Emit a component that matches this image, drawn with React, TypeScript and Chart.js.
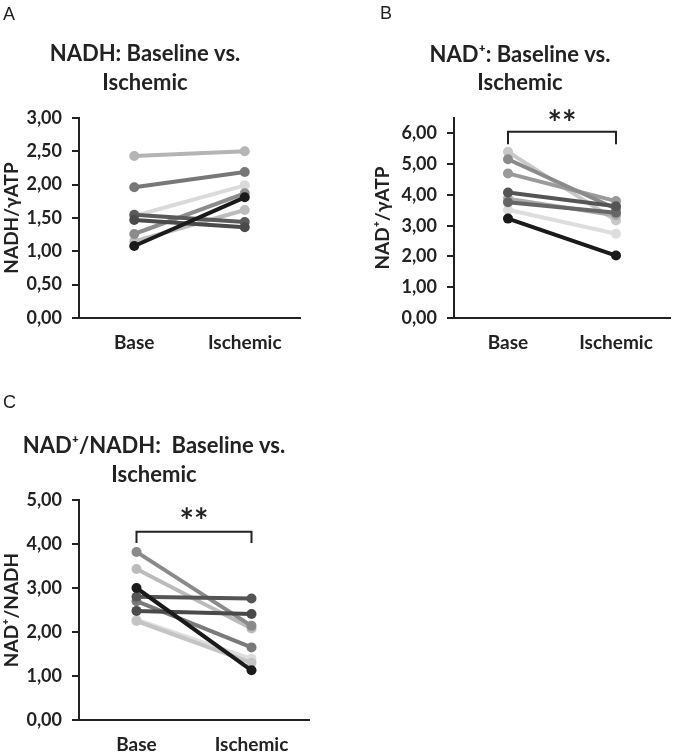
import React, { useEffect, useRef } from 'react';
import { Chart, registerables } from 'chart.js';

Chart.register(...registerables);

const FONT = 'Lato, "Open Sans", "DejaVu Sans", sans-serif';
const TEXT = '#222222';
const AXIS = '#222222';

const categories = ['Base', 'Ischemic'];

// Panel A: NADH / gamma-ATP
const nadhColors = ['#b4b4b4', '#777777', '#dadada', '#8c8c8c', '#1a1a1a', '#bcbcbc', '#5a5a5a', '#4a4a4a'];
const nadhBase = [2.43, 1.96, 1.53, 1.26, 1.08, 1.15, 1.55, 1.47];
const nadhIschemic = [2.50, 2.19, 1.99, 1.87, 1.81, 1.62, 1.44, 1.36];

// Panel B: NAD+ / gamma-ATP
const nadColors = ['#c8c8c8', '#8a8a8a', '#9a9a9a', '#555555', '#aaaaaa', '#666666', '#dddddd', '#1a1a1a'];
const nadBase = [5.40, 5.16, 4.70, 4.08, 3.88, 3.76, 3.52, 3.23];
const nadIschemic = [3.17, 3.55, 3.80, 3.63, 3.33, 3.42, 2.74, 2.03];

// Panel C: NAD+ / NADH
const ratioColors = ['#8a8a8a', '#bbbbbb', '#1a1a1a', '#555555', '#7a7a7a', '#4a4a4a', '#dddddd', '#c4c4c4'];
const ratioBase = [3.82, 3.43, 3.00, 2.80, 2.70, 2.48, 2.28, 2.25];
const ratioIschemic = [2.14, 2.08, 1.13, 2.76, 1.65, 2.41, 1.39, 1.30];

// Axis ranges / ticks
const nadhAxis = { max: 3, step: 0.5 };
const nadAxis = { max: 6.5, step: 1 };
const ratioAxis = { max: 5, step: 1 };

// Significance brackets (value units): top, bottom of legs, label position
const nadBracket = { top: 6.05, bottom: 5.65, labelAt: 6.29, label: '**' };
const ratioBracket = { top: 4.28, bottom: 4.02, labelAt: 4.49, label: '**' };

type Bracket = { top: number; bottom: number; labelAt: number; label: string };

type PanelCfg = {
  left: number; top: number; w: number; h: number;
  yAxisW: number; padTop: number; padRight: number; xAxisH: number;
  yTitle: string; yTitlePad: number;
  axis: { max: number; step: number };
  base: number[]; isch: number[]; colors: string[];
  letter: string; letterX: number; letterY: number;
  titleLines: string[]; titleX: number; titleY: number; titleGap: number;
  bracket?: Bracket;
};

const panels: PanelCfg[] = [
  {
    left: 0, top: 0, w: 330, h: 365,
    yAxisW: 79, padTop: 118, padRight: 30, xAxisH: 47,
    yTitle: 'NADH/γATP', yTitlePad: 0,
    axis: nadhAxis, base: nadhBase, isch: nadhIschemic, colors: nadhColors,
    letter: 'A', letterX: 3, letterY: 20,
    titleLines: ['NADH: Baseline vs.', 'Ischemic'], titleX: 145, titleY: 61, titleGap: 29,
  },
  {
    left: 330, top: 0, w: 345, h: 365,
    yAxisW: 124, padTop: 118, padRight: 2, xAxisH: 47,
    yTitle: 'NAD⁺/γATP', yTitlePad: 41,
    axis: nadAxis, base: nadBase, isch: nadIschemic, colors: nadColors,
    letter: 'B', letterX: 50, letterY: 19,
    titleLines: ['NAD⁺: Baseline vs.', 'Ischemic'], titleX: 190, titleY: 62, titleGap: 28,
    bracket: nadBracket,
  },
  {
    left: 0, top: 370, w: 330, h: 383,
    yAxisW: 79, padTop: 130, padRight: 21, xAxisH: 33,
    yTitle: 'NAD⁺/NADH', yTitlePad: 0,
    axis: ratioAxis, base: ratioBase, isch: ratioIschemic, colors: ratioColors,
    letter: 'C', letterX: 3, letterY: 38,
    titleLines: ['NAD⁺/NADH:  Baseline vs.', 'Ischemic'], titleX: 154, titleY: 83, titleGap: 29,
    bracket: ratioBracket,
  },
];

function lum(hex: string) {
  const n = parseInt(hex.slice(1), 16);
  return ((n >> 16) & 255) + ((n >> 8) & 255) + (n & 255);
}

function makeDecor(cfg: PanelCfg) {
  return {
    id: 'decor' + cfg.letter,
    afterDraw(chart: any) {
      const ctx = chart.ctx as CanvasRenderingContext2D;
      ctx.save();
      ctx.fillStyle = TEXT;
      ctx.textBaseline = 'alphabetic';
      ctx.textAlign = 'left';
      ctx.font = '18px "Liberation Sans", Arial, sans-serif';
      ctx.fillText(cfg.letter, cfg.letterX, cfg.letterY);
      ctx.textAlign = 'center';
      ctx.font = 'bold 22px ' + FONT;
      cfg.titleLines.forEach((t, i) => ctx.fillText(t, cfg.titleX, cfg.titleY + i * cfg.titleGap));
      if (cfg.bracket) {
        const xs = chart.scales.x;
        const ys = chart.scales.y;
        const x1 = xs.getPixelForValue(0);
        const x2 = xs.getPixelForValue(1);
        const yT = ys.getPixelForValue(cfg.bracket.top);
        const yB = ys.getPixelForValue(cfg.bracket.bottom);
        ctx.strokeStyle = AXIS;
        ctx.lineWidth = 2;
        ctx.beginPath();
        ctx.moveTo(x1, yB);
        ctx.lineTo(x1, yT);
        ctx.lineTo(x2, yT);
        ctx.lineTo(x2, yB);
        ctx.stroke();
        ctx.font = 'bold 34px ' + FONT;
        ctx.textBaseline = 'middle';
        ctx.fillText(cfg.bracket.label, (x1 + x2) / 2, ys.getPixelForValue(cfg.bracket.labelAt));
      }
      ctx.restore();
    },
  };
}

function buildConfig(cfg: PanelCfg): any {
  const datasets = cfg.base.map((b, i) => ({
    data: [b, cfg.isch[i]],
    borderColor: cfg.colors[i],
    backgroundColor: cfg.colors[i],
    pointBackgroundColor: cfg.colors[i],
    pointBorderColor: cfg.colors[i],
    borderWidth: 4,
    pointRadius: 5,
    pointBorderWidth: 0,
    order: lum(cfg.colors[i]),
    clip: false,
  }));
  const tickFont = { family: FONT, weight: 'bold', size: 18 };
  return {
    type: 'line',
    data: { labels: categories, datasets },
    options: {
      responsive: false,
      animation: false,
      devicePixelRatio: 1,
      layout: { padding: { top: cfg.padTop, right: cfg.padRight, left: 0, bottom: 0 } },
      plugins: { legend: { display: false }, tooltip: { enabled: false }, title: { display: false } },
      scales: {
        x: {
          type: 'category',
          offset: true,
          grid: { display: false, drawTicks: false },
          border: { display: true, color: AXIS, width: 2 },
          ticks: { color: TEXT, font: { family: FONT, weight: 'bold', size: 19 }, padding: 13, maxRotation: 0 },
          afterFit: (s: any) => { s.height = cfg.xAxisH; },
        },
        y: {
          min: 0,
          max: cfg.axis.max,
          ticks: {
            stepSize: cfg.axis.step,
            includeBounds: false,
            color: TEXT,
            font: tickFont,
            padding: 10,
            callback: (v: any) => Number(v).toFixed(2).replace('.', ','),
          },
          grid: { drawOnChartArea: false, drawTicks: true, tickLength: 7, color: AXIS, lineWidth: 2 },
          border: { display: true, color: AXIS, width: 2 },
          title: {
            display: true,
            text: cfg.yTitle,
            color: TEXT,
            font: { family: FONT, weight: 'bold', size: 19 },
            padding: { top: cfg.yTitlePad, bottom: 0 },
          },
          afterFit: (s: any) => { s.width = cfg.yAxisW; },
        },
      },
    },
    plugins: [makeDecor(cfg)],
  };
}

function Panel({ cfg }: { cfg: PanelCfg }) {
  const ref = useRef<HTMLCanvasElement>(null);
  useEffect(() => {
    const chart = new Chart(ref.current as HTMLCanvasElement, buildConfig(cfg));
    return () => chart.destroy();
  }, [cfg]);
  return (
    <canvas
      ref={ref}
      width={cfg.w}
      height={cfg.h}
      style={{ position: 'absolute', left: cfg.left, top: cfg.top, width: cfg.w, height: cfg.h }}
    />
  );
}

export default function App() {
  return (
    <div style={{ position: 'absolute', left: 0, top: 0, width: 675, height: 753, background: '#ffffff' }}>
      {panels.map((p) => (
        <Panel key={p.letter} cfg={p} />
      ))}
    </div>
  );
}
